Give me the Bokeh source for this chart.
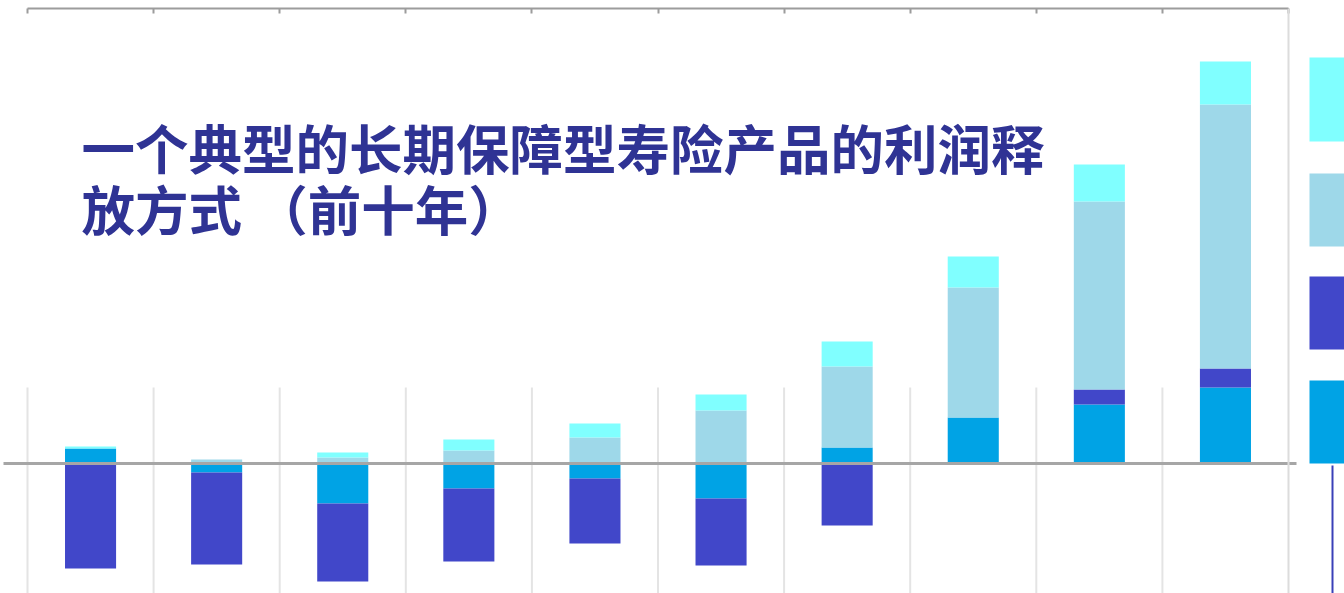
import numpy as np
from bokeh.plotting import figure
from bokeh.models import Range1d, LinearAxis, FixedTicker, Span, Label
from bokeh.embed import file_html
from bokeh.resources import INLINE

# ---------------- data ----------------
years = list(range(1, 11))
# four profit components per policy year (stacked, positive upward, negative downward)
comp_blue = [1.5, -0.9, -4.0, -2.5, -1.5, -3.5, 1.6, 4.6, 5.9, 7.6]
comp_dark = [-10.5, -9.2, -7.8, -7.3, -6.5, -6.7, -6.2, 0.0, 1.5, 1.9]
comp_light = [0.0, 0.4, 0.6, 1.3, 2.6, 5.3, 8.1, 13.0, 18.8, 26.4]
comp_cyan = [0.2, 0.0, 0.5, 1.1, 1.4, 1.6, 2.5, 3.1, 3.7, 4.3]
title_lines = ["一个典型的长期保障型寿险产品的利润释", "放方式 （前十年）"]

# ---------------- styles / layout ----------------
series = [comp_blue, comp_dark, comp_light, comp_cyan]
colors = ["#00A3E5", "#4147C9", "#9ED8E9", "#80FFFF"]
legend_order = [3, 2, 1, 0]  # swatches top to bottom

W, H = 1344, 593
PX_L, PX_R = 27, 1288        # category block edges in pixels
PX_TOP, PX_ZERO = 8, 463
PX_PER_UNIT = 10.0
XPP = len(years) / (PX_R - PX_L)


def px_x(px):
    return 0.5 + (px - PX_L) * XPP


def px_y(py):
    return (PX_ZERO - py) / PX_PER_UNIT


x_lo, x_hi = px_x(0), px_x(W)
y_hi, y_lo = px_y(PX_TOP), px_y(H)

p = figure(width=W, height=H, x_range=Range1d(x_lo, x_hi), y_range=Range1d(y_lo, y_hi),
           output_backend="svg", toolbar_location=None,
           x_axis_location=None, y_axis_location=None,
           min_border=0, min_border_top=PX_TOP)
p.grid.visible = False
p.outline_line_color = None
p.background_fill_color = "white"
p.border_fill_color = "white"

bounds = [y + 0.5 for y in [0] + years]
top_axis = LinearAxis(bounds=(bounds[0], bounds[-1]), ticker=FixedTicker(ticks=bounds),
                      major_tick_in=5, major_tick_out=0, minor_tick_in=0, minor_tick_out=0,
                      axis_line_color="#9C9C9C", axis_line_width=2,
                      major_tick_line_color="#9C9C9C", major_tick_line_width=2,
                      major_label_text_font_size="0px", major_label_standoff=0,
                      major_label_overrides={b: "" for b in bounds})
p.add_layout(top_axis, "above")

# vertical separators (lower part only)
GRID_TOP = px_y(387)
p.segment(x0=bounds[:-1], y0=[y_lo] * (len(bounds) - 1), x1=bounds[:-1],
          y1=[GRID_TOP] * (len(bounds) - 1), line_color="#E4E4E4", line_width=2)
p.add_layout(Span(location=bounds[-1], dimension="height", line_color="#DCDCDC", line_width=2))

# stacked bars
pos_base = np.zeros(len(years))
neg_base = np.zeros(len(years))
for vals, c in zip(series, colors):
    v = np.array(vals, dtype=float)
    pos = np.clip(v, 0, None)
    neg = np.clip(v, None, 0)
    p.vbar(x=years, width=0.405, bottom=pos_base.copy(), top=pos_base + pos,
           fill_color=c, line_color=None)
    p.vbar(x=years, width=0.405, bottom=neg_base.copy(), top=neg_base + neg,
           fill_color=c, line_color=None)
    pos_base = pos_base + pos
    neg_base = neg_base + neg

# zero line
p.segment(x0=[px_x(3)], y0=[0], x1=[px_x(1296)], y1=[0], line_color="#A6A6A6", line_width=3)

# legend swatches (cropped at the right edge)
sw_rows = [(57, 141), (173, 246), (276, 349), (380, 463)]
p.quad(left=[px_x(1309)] * 4, right=[x_hi + 0.2] * 4,
       top=[px_y(a) for a, b in sw_rows], bottom=[px_y(b) for a, b in sw_rows],
       fill_color=[colors[i] for i in legend_order], line_color=None)
p.segment(x0=[px_x(1332)], y0=[px_y(465)], x1=[px_x(1332)], y1=[y_lo],
          line_color="#3A40B8", line_width=2)

# title
for line, mid_px in zip(title_lines, [146, 207]):
    p.add_layout(Label(x=px_x(81), y=px_y(mid_px), text=line,
                       text_font="Noto Sans CJK SC", text_font_size="53.5px",
                       text_font_style="bold",
                       text_color="#2F3394", text_baseline="middle"))

open("out.html", "w").write(file_html(p, INLINE))
